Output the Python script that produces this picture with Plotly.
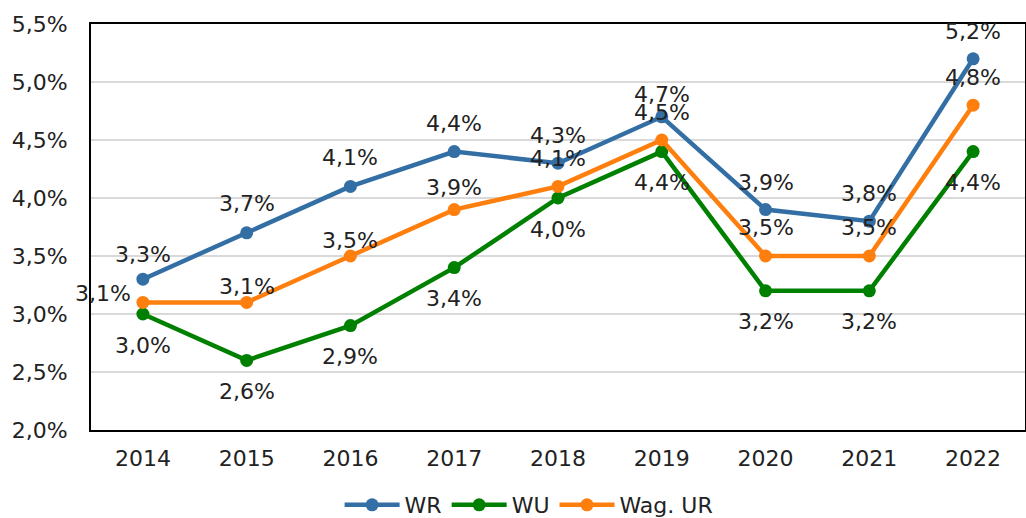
import plotly.graph_objects as go

years = ["2014", "2015", "2016", "2017", "2018", "2019", "2020", "2021", "2022"]
wr = [3.3, 3.7, 4.1, 4.4, 4.3, 4.7, 3.9, 3.8, 5.2]
wu = [3.0, 2.6, 2.9, 3.4, 4.0, 4.4, 3.2, 3.2, 4.4]
wag = [3.1, 3.1, 3.5, 3.9, 4.1, 4.5, 3.5, 3.5, 4.8]
y_ticks = [2.0, 2.5, 3.0, 3.5, 4.0, 4.5, 5.0, 5.5]

# label placement (pixel offsets of label centre from the point)
wr_dy = [25, 29, 29, 28, 28, 22, 27, 28, 27]
wu_dy = [-31] * 9
wag_dy = [9, 16, 16, 22, 28, 28, 29, 29, 28]
wag_dx = [-40, 0, 0, 0, 0, 0, 0, 0, 0]

def fmt(v):
    return f"{v:.1f}".replace(".", ",") + "%"

font = "DejaVu Sans"
fig = go.Figure()
series = [
    ("WR", wr, "#336FA5", wr_dy, [0] * 9),
    ("WU", wu, "#008000", wu_dy, [0] * 9),
    ("Wag. UR", wag, "#FF7F0E", wag_dy, wag_dx),
]
for name, vals, col, dys, dxs in series:
    fig.add_trace(go.Scatter(
        x=years, y=vals, name=name, mode="lines+markers",
        line=dict(color=col, width=4.5),
        marker=dict(color=col, size=13),
        cliponaxis=False,
    ))
for name, vals, col, dys, dxs in series:
    for i, (v, dy, dx) in enumerate(zip(vals, dys, dxs)):
        fig.add_annotation(x=i, y=v, xref="x", yref="y", text=fmt(v), showarrow=False,
                           xanchor="center", yanchor="middle",
                           yshift=dy, xshift=dx,
                           font=dict(family=font, size=22, color="#222222"))

fig.update_layout(
    width=1026, height=518,
    margin=dict(l=91, r=1, t=24, b=88),
    plot_bgcolor="white", paper_bgcolor="white",
    font=dict(family=font, size=22, color="#222222"),
    showlegend=True,
    legend=dict(orientation="h", xref="container", yref="container",
                x=0.331, xanchor="left", y=0.025, yanchor="middle",
                font=dict(size=22), itemwidth=55, traceorder="normal"),
    xaxis=dict(type="category", range=[-0.5, 8.5], showgrid=False,
               showline=True, linecolor="black", linewidth=2, mirror=True,
               ticks="", ticklabelstandoff=8, automargin=False),
    yaxis=dict(range=[2.0, 5.5], tickvals=y_ticks, ticktext=[fmt(v) for v in y_ticks],
               showgrid=True, gridcolor="#D9D9D9", gridwidth=1.5,
               showline=True, linecolor="black", linewidth=2, mirror=True,
               ticks="", ticklabelstandoff=17, zeroline=False, automargin=False),
)
fig.write_html("out.html", config={"displayModeBar": False},
               post_script="document.body.style.margin='0';document.body.style.overflow='hidden';")
